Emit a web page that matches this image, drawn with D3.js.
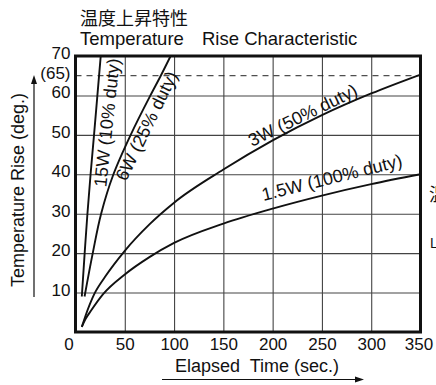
<!DOCTYPE html>
<html>
<head>
<meta charset="utf-8">
<script src="https://cdn.jsdelivr.net/npm/d3@7"></script>
<style>
  html, body { margin: 0; padding: 0; background: #fff; overflow: hidden; }
  svg text { font-family: "Liberation Sans", Arial, Helvetica, sans-serif; fill: #111; }
</style>
</head>
<body>
<div id="chart"></div>
<script>
// Tick values
let xTicks = [0, 50, 100, 150, 200, 250, 300, 350],
    yTicks = [10, 20, 30, 40, 50, 60, 65, 70],
    limitLine = 65;

// Curves: [elapsed sec, rise deg]
let curve15W = [[6.4, 9], [9.3, 20], [12.1, 30], [15.3, 40], [18.8, 50], [22.2, 60], [25.6, 70]],
    curve6W  = [[9.2, 9], [17.5, 20], [26, 30], [38.5, 40], [56, 50], [76, 60], [86.5, 65], [96.5, 70]],
    curve3W  = [[6.4, 1.3], [10, 4], [19, 9.6], [30, 14], [50, 20.6], [75, 27.3], [100, 32.8], [150, 41.2], [200, 48.6], [250, 55], [300, 60.5], [350, 65.3]],
    curve1W5 = [[6.4, 1.3], [10, 3.2], [16, 5.5], [28, 9.6], [50, 14.6], [75, 19], [100, 22.6], [150, 27.5], [200, 31.3], [250, 34.6], [300, 37.5], [350, 40]];

let seriesNames = ['15W (10% duty)', '6W (25% duty)', '3W (50% duty)', '1.5W (100% duty)'],
    seriesData  = [curve15W, curve6W, curve3W, curve1W5],
    // steep curves run up the y axis, the slow ones along x
    seriesCurve = [d3.curveMonotoneY, d3.curveMonotoneY, d3.curveMonotoneX, d3.curveMonotoneX];

// Where each curve label sits (data coords) and its tilt
let labelAt    = [[31.7, 53.1], [72, 52.3], [230.5, 55], [260, 39.2]],
    labelAngle = [-84, -64, -26, -14];

let width  = 436,
    height = 385,
    x      = d3.scaleLinear().domain([0, 350]).range([75.5, 420.5]),
    y      = d3.scaleLinear().domain([0, 70]).range([332, 56]);

let svg = d3.select('#chart').append('svg')
    .attr('width', width)
    .attr('height', height);

// Grid
svg.append('g')
    .attr('transform', 'translate(0,' + y(0) + ')')
    .call(d3.axisBottom(x).tickValues(xTicks.slice(1, -1)).tickSize(-(y(0) - y(70))).tickFormat(''))
    .call(g => g.select('.domain').remove())
    .call(g => g.selectAll('line').attr('stroke', '#444').attr('stroke-width', 1.1));

svg.append('g')
    .attr('transform', 'translate(' + x(0) + ',0)')
    .call(d3.axisLeft(y).tickValues(yTicks.filter(d => d < 70 && d !== limitLine)).tickSize(-(x(350) - x(0))).tickFormat(''))
    .call(g => g.select('.domain').remove())
    .call(g => g.selectAll('line').attr('stroke', '#444').attr('stroke-width', 1.1));

// 65 deg limit
svg.append('line')
    .attr('x1', x(0)).attr('x2', x(350))
    .attr('y1', y(limitLine)).attr('y2', y(limitLine))
    .attr('stroke', '#222')
    .attr('stroke-width', 1)
    .attr('stroke-dasharray', '6,5');

// Curves
svg.append('g').selectAll('path')
    .data(seriesData)
    .join('path')
    .attr('d', (d, i) => d3.line().x(p => x(p[0])).y(p => y(p[1])).curve(seriesCurve[i])(d))
    .attr('fill', 'none')
    .attr('stroke', '#111')
    .attr('stroke-width', 1.9);

// Frame
svg.append('rect')
    .attr('x', x(0)).attr('y', y(70))
    .attr('width', x(350) - x(0))
    .attr('height', y(0) - y(70))
    .attr('fill', 'none')
    .attr('stroke', '#111')
    .attr('stroke-width', 3);

// Tick labels
svg.append('g')
    .attr('transform', 'translate(0,' + y(0) + ')')
    .call(d3.axisBottom(x).tickValues(xTicks).tickSize(0).tickPadding(6))
    .call(g => g.select('.domain').remove())
    .call(g => g.selectAll('text')
        .attr('font-size', 17)
        .attr('font-family', '"Liberation Sans", Arial, sans-serif')
        .attr('fill', '#111')
        .attr('dx', d => d === 0 ? -7 : (d === 350 ? -2 : 0)));

svg.append('g')
    .attr('transform', 'translate(' + x(0) + ',0)')
    .call(d3.axisLeft(y).tickValues(yTicks).tickSize(0).tickPadding(5)
        .tickFormat(d => d === limitLine ? '(' + d + ')' : d))
    .call(g => g.select('.domain').remove())
    .call(g => g.selectAll('text')
        .attr('font-size', 17)
        .attr('font-family', '"Liberation Sans", Arial, sans-serif')
        .attr('fill', '#111')
        .attr('y', -3));

// Curve labels
svg.append('g').selectAll('text')
    .data(seriesNames)
    .join('text')
    .attr('text-anchor', 'middle')
    .attr('font-size', 18)
    .attr('transform', (d, i) => 'translate(' + x(labelAt[i][0]) + ',' + y(labelAt[i][1]) + ') rotate(' + labelAngle[i] + ')')
    .attr('dy', '0.35em')
    .text(d => d);

// Titles
svg.append('text')
    .attr('x', 80).attr('y', 24.5)
    .attr('font-size', 18)
    .style('font-family', '"Noto Sans CJK JP", sans-serif')
    .text('温度上昇特性');

svg.append('text')
    .attr('x', 80).attr('y', 44.5)
    .attr('font-size', 18.5)
    .text('Temperature');

svg.append('text')
    .attr('x', 202).attr('y', 44.5)
    .attr('font-size', 18.5)
    .text('Rise Characteristic');

// Axis titles with arrows
svg.append('text')
    .attr('x', 257).attr('y', 372)
    .attr('text-anchor', 'middle')
    .attr('font-size', 18)
    .style('white-space', 'pre')
    .text('Elapsed  Time (sec.)');

svg.append('text')
    .attr('transform', 'translate(24,190) rotate(-90)')
    .attr('text-anchor', 'middle')
    .attr('font-size', 18)
    .text('Temperature Rise (deg.)');

svg.append('line')
    .attr('x1', 162).attr('x2', 358)
    .attr('y1', 379.5).attr('y2', 379.5)
    .attr('stroke', '#111').attr('stroke-width', 1.2);
svg.append('path')
    .attr('d', 'M364,379.5 L355,376.5 L355,382.5 Z')
    .attr('fill', '#111');

svg.append('line')
    .attr('x1', 34).attr('x2', 34)
    .attr('y1', 297).attr('y2', 82)
    .attr('stroke', '#111').attr('stroke-width', 1.2);
svg.append('path')
    .attr('d', 'M34,75 L31,84 L37,84 Z')
    .attr('fill', '#111');

// Edges of the neighbouring figure, cut off at the right margin
svg.append('text')
    .attr('x', 429).attr('y', 201)
    .attr('font-size', 18)
    .style('font-family', '"Noto Sans CJK JP", sans-serif')
    .text('温');
svg.append('text')
    .attr('x', 430).attr('y', 248)
    .attr('font-size', 14)
    .text('L');
</script>
</body>
</html>
